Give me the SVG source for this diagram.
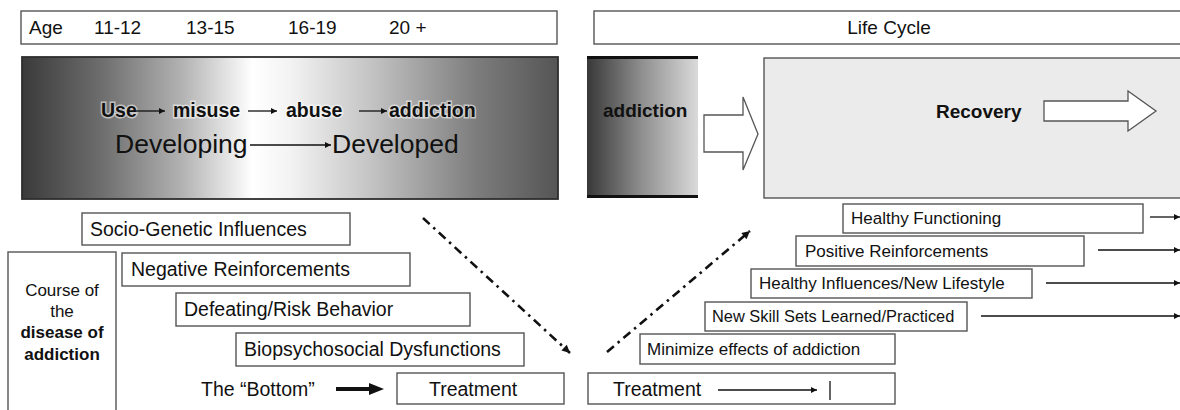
<svg xmlns="http://www.w3.org/2000/svg" width="1180" height="410" viewBox="0 0 1180 410">
<style>
  .box { fill: #ffffff; stroke: #555555; stroke-width: 1.4; }
  .t { font-family: "Liberation Sans", Arial, sans-serif; fill: #111111; }
  .lh { font-size: 19px; }
  .lb { font-size: 19.5px; }
  .rb { font-size: 17px; }
  .bold { font-weight: bold; }
  .halo { stroke: #ffffff; stroke-width: 3; stroke-opacity: 0.55; paint-order: stroke; }
  .ln { stroke: #111111; stroke-width: 1.3; fill: none; }
  .dd { stroke: #111111; stroke-width: 2.6; fill: none; stroke-dasharray: 9 5 2.5 5; }
  .hollow { fill: #ffffff; stroke: #555555; stroke-width: 1.3; }
</style>
<defs>
  <linearGradient id="gDark" x1="0" y1="0" x2="1" y2="0">
    <stop offset="0" stop-color="#3a3a3a"/>
    <stop offset="0.15" stop-color="#6e6e6e"/>
    <stop offset="0.3" stop-color="#b3b3b3"/>
    <stop offset="0.43" stop-color="#ffffff"/>
    <stop offset="0.5" stop-color="#f3f3f3"/>
    <stop offset="0.65" stop-color="#c4c4c4"/>
    <stop offset="0.85" stop-color="#7c7c7c"/>
    <stop offset="1" stop-color="#555555"/>
  </linearGradient>
  <linearGradient id="gAdd" x1="0" y1="0" x2="1" y2="0">
    <stop offset="0" stop-color="#383838"/>
    <stop offset="0.5" stop-color="#909090"/>
    <stop offset="1" stop-color="#dadada"/>
  </linearGradient>
  <marker id="ah" viewBox="0 0 10 10" refX="10" refY="5" markerWidth="7" markerHeight="6" markerUnits="userSpaceOnUse" orient="auto">
    <path d="M0,0 L10,5 L0,10 z" fill="#111111"/>
  </marker>
  <marker id="ahd" viewBox="0 0 10 10" refX="10" refY="5" markerWidth="11" markerHeight="8" markerUnits="userSpaceOnUse" orient="auto">
    <path d="M0,0 L10,5 L0,10 z" fill="#111111"/>
  </marker>
</defs>

<g id="age-bar">
  <rect class="box" x="21" y="11" width="536" height="33"/>
  <text class="t lh" x="29" y="34">Age</text>
  <text class="t lh" x="94" y="34">11-12</text>
  <text class="t lh" x="186" y="34">13-15</text>
  <text class="t lh" x="288" y="34">16-19</text>
  <text class="t lh" x="389" y="34">20 +</text>
</g>

<g id="life-cycle">
  <rect class="box" x="594" y="11" width="600" height="33"/>
  <text class="t lh" x="889" y="34" text-anchor="middle">Life Cycle</text>
</g>

<g id="progression">
  <rect x="22" y="57" width="536" height="142" fill="url(#gDark)" stroke="#2e2e2e" stroke-width="1.8"/>
  <text class="t bold halo" font-size="19.5" x="101" y="117">Use</text>
  <text class="t bold halo" font-size="19.5" x="173" y="117">misuse</text>
  <text class="t bold halo" font-size="19.5" x="286" y="117">abuse</text>
  <text class="t bold halo" font-size="19.5" x="389" y="117">addiction</text>
  <line class="ln" x1="136" y1="111" x2="165" y2="111" marker-end="url(#ah)"/>
  <line class="ln" x1="248" y1="111" x2="277" y2="111" marker-end="url(#ah)"/>
  <line class="ln" x1="359" y1="111" x2="387" y2="111" marker-end="url(#ah)"/>
  <text class="t" font-size="26.5" x="115" y="153">Developing</text>
  <line class="ln" x1="250" y1="145" x2="331" y2="145" marker-end="url(#ah)"/>
  <text class="t" font-size="26.5" x="332" y="153">Developed</text>
</g>

<g id="addiction">
  <rect x="587" y="57" width="111" height="140" fill="url(#gAdd)"/>
  <line x1="587" y1="57.5" x2="698" y2="57.5" stroke="#111" stroke-width="3"/>
  <line x1="587" y1="196.5" x2="698" y2="196.5" stroke="#111" stroke-width="3"/>
  <text class="t bold" font-size="19" x="603" y="117">addiction</text>
</g>

<g id="big-arrow">
  <path class="hollow" d="M704,115 L743,115 L743,97 L758,134 L743,170 L743,152 L704,152 Z"/>
</g>

<g id="recovery">
  <rect x="764" y="58" width="430" height="140" fill="#ebebeb" stroke="#555555" stroke-width="1.4"/>
  <text class="t bold" font-size="19" x="936" y="118">Recovery</text>
  <path class="hollow" d="M1044,101 L1128,101 L1128,91 L1156,111 L1128,131 L1128,121 L1044,121 Z"/>
</g>

<g id="course">
  <rect class="box" x="8" y="252" width="108" height="170"/>
  <text class="t" font-size="17" x="62" y="296" text-anchor="middle">Course of</text>
  <text class="t" font-size="17" x="62" y="317" text-anchor="middle">the</text>
  <text class="t bold" font-size="17" x="62" y="338" text-anchor="middle">disease of</text>
  <text class="t bold" font-size="17" x="62" y="360" text-anchor="middle">addiction</text>
</g>

<g id="socio">
  <rect class="box" x="82" y="213" width="268" height="32"/>
  <text class="t lb" x="90" y="236">Socio-Genetic Influences</text>
</g>
<g id="negative">
  <rect class="box" x="122" y="253" width="288" height="33"/>
  <text class="t lb" x="131" y="276">Negative Reinforcements</text>
</g>
<g id="defeating">
  <rect class="box" x="176" y="293" width="294" height="33"/>
  <text class="t lb" x="184" y="316">Defeating/Risk Behavior</text>
</g>
<g id="biopsych">
  <rect class="box" x="236" y="333" width="288" height="33"/>
  <text class="t lb" x="244" y="356">Biopsychosocial Dysfunctions</text>
</g>
<g id="bottom">
  <text class="t lb" x="201" y="396">The “Bottom”</text>
  <path d="M336,387 L369,387 L369,383 L384,389 L369,395 L369,391 L336,391 Z" fill="#111111"/>
</g>
<g id="treatment-left">
  <rect class="box" x="397" y="373" width="167" height="31"/>
  <text class="t lb" x="429" y="396">Treatment</text>
</g>

<g id="treatment-right">
  <rect class="box" x="588" y="373" width="307" height="31"/>
  <text class="t lb" x="613" y="396">Treatment</text>
  <line class="ln" x1="718" y1="390" x2="817" y2="390" marker-end="url(#ah)"/>
  <line class="ln" x1="830" y1="381" x2="830" y2="400"/>
</g>
<g id="minimize">
  <rect class="box" x="640" y="334" width="255" height="30"/>
  <text class="t rb" x="647" y="355">Minimize effects of addiction</text>
</g>
<g id="skills">
  <rect class="box" x="705" y="302" width="262" height="29"/>
  <text class="t" font-size="16.4" x="712" y="322">New Skill Sets Learned/Practiced</text>
</g>
<g id="influences">
  <rect class="box" x="751" y="269" width="281" height="29"/>
  <text class="t rb" x="759" y="289">Healthy Influences/New Lifestyle</text>
</g>
<g id="positive">
  <rect class="box" x="796" y="236" width="288" height="30"/>
  <text class="t rb" x="805" y="257">Positive Reinforcements</text>
</g>
<g id="functioning">
  <rect class="box" x="843" y="204" width="300" height="29"/>
  <text class="t rb" x="851" y="224">Healthy Functioning</text>
</g>

<g id="connectors">
  <line class="dd" x1="423" y1="218" x2="570" y2="353" marker-end="url(#ahd)"/>
  <line class="dd" x1="607" y1="352" x2="750" y2="231" marker-end="url(#ahd)"/>
  <line class="ln" x1="1150" y1="217" x2="1180" y2="217" marker-end="url(#ah)"/>
  <line class="ln" x1="1098" y1="250" x2="1180" y2="250" marker-end="url(#ah)"/>
  <line class="ln" x1="1046" y1="283" x2="1180" y2="283" marker-end="url(#ah)"/>
  <line class="ln" x1="981" y1="316" x2="1180" y2="316" marker-end="url(#ah)"/>
</g>
</svg>
